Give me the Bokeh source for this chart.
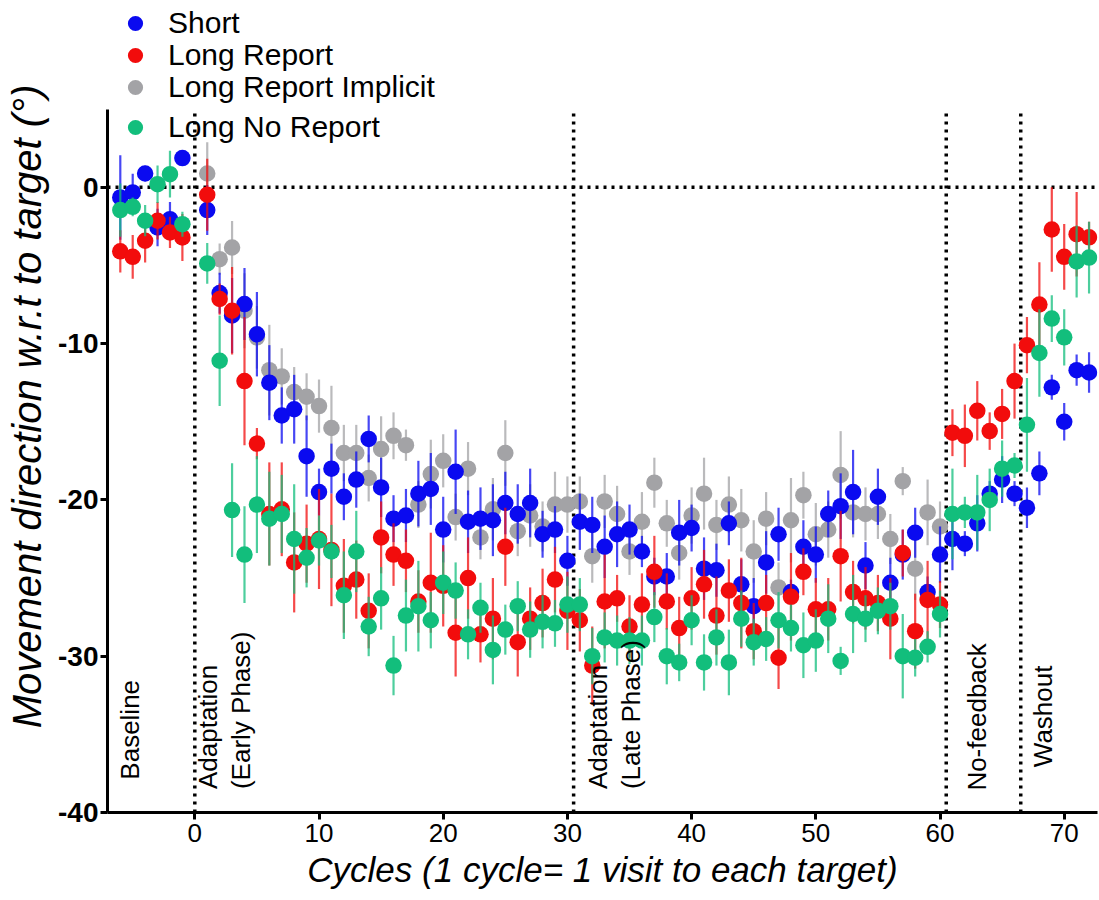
import numpy as np
from bokeh.plotting import figure
from bokeh.models import ColumnDataSource, Range1d, LinearAxis, FixedTicker, Legend, LegendItem
from bokeh.core.properties import value
from bokeh.embed import file_html
from bokeh.resources import INLINE

nan = float("nan")

# ---------------- data ----------------
cycles = [-6, -5, -4, -3, -2, -1,
          1, 2, 3, 4, 5, 6, 7, 8, 9, 10,
          11, 12, 13, 14, 15, 16, 17, 18, 19, 20,
          21, 22, 23, 24, 25, 26, 27, 28, 29, 30,
          31, 32, 33, 34, 35, 36, 37, 38, 39, 40,
          41, 42, 43, 44, 45, 46, 47, 48, 49, 50,
          51, 52, 53, 54, 55, 56, 57, 58, 59, 60,
          61, 62, 63, 64, 65, 66,
          67, 68, 69, 70, 71, 72]

short = [-0.65, -0.33, 0.88, -2.57, -2.04, 1.87,
         -1.46, -6.77, -8.2, -7.47, -9.4, -12.5, -14.6, -14.2, -17.2, -19.5,
         -18.0, -19.8, -18.7, -16.1, -19.2, -21.2, -21.0, -19.6, -19.3, -21.9,
         -18.2, -21.4, -21.2, -21.3, -20.2, -20.9, -20.2, -22.2, -21.9, -23.9,
         -21.4, -21.6, -23.0, -22.2, -21.9, -23.3, -24.9, -24.9, -22.1, -21.8,
         -24.4, -24.5, -21.5, -25.4, -26.8, -24.0, -22.2, -25.9, -23.0, -23.5,
         -20.9, -20.4, -19.5, -24.2, -19.8, -25.3, -23.5, -22.1, -25.9, -23.5,
         -22.5, -22.8, -21.5, -19.6, -18.7, -19.6,
         -20.5, -18.3, -12.8, -15.0, -11.7, -11.85]
short_err = [2.7, 1.2, 0.5, 1.2, 1.1, 0.5,
             1.6, 1.3, 2.4, 2.3, 2.7, 2.4, 1.8, 2.2, 2.6, 1.5,
             1.6, 1.5, 1.8, 1.5, 1.9, 1.5, 1.7, 2.1, 2.3, 2.1,
             2.7, 2.0, 2.0, 2.3, 2.0, 1.9, 2.2, 1.5, 1.5, 1.6,
             1.8, 1.8, 2.0, 2.1, 1.6, 1.0, 1.2, 1.5, 2.1, 1.5,
             2.0, 1.7, 1.4, 1.6, 1.8, 2.0, 1.7, 0.8, 1.7, 1.8,
             1.5, 2.1, 2.7, 1.5, 1.8, 1.6, 1.6, 1.6, 1.0, 1.8,
             2.0, 0.8, 1.8, 0.8, 1.5, 0.8,
             1.3, 1.4, 0.8, 1.2, 1.0, 1.3]

long_report = [-4.1, -4.45, -3.42, -2.14, -2.89, -3.21,
               -0.48, -7.15, -7.9, -12.4, -16.4, -20.9, -20.6, -24.0, -22.8, -22.5,
               -23.2, -25.5, -25.1, -27.1, -22.4, -23.5, -23.9, -26.5, -25.3, -25.5,
               -28.5, -25.0, -28.6, -27.6, -23.0, -29.1, -27.6, -26.6, -25.1, -27.1,
               -27.7, -30.6, -26.5, -26.3, -28.1, -26.7, -24.6, -26.5, -28.2, -26.3,
               -25.4, -27.4, -25.8, -26.6, -28.4, -26.6, -30.1, -26.2, -24.6, -27.0,
               -27.0, -23.6, -25.9, -26.3, -26.6, -27.6, -23.4, -28.4, -26.4, -26.7,
               -15.7, -15.9, -14.3, -15.6, -14.5, -12.4,
               -10.1, -7.5, -2.7, -4.45, -3.0, -3.2]
long_report_err = [1.35, 1.4, 1.4, 1.2, 1.0, 1.5,
                   2.3, 1.0, 2.8, 4.1, 1.0, 3.3, 3.0, 3.2, 2.5, 3.2,
                   3.6, 3.0, 2.5, 2.4, 2.3, 2.0, 2.0, 2.0, 3.2, 2.6,
                   2.8, 2.6, 1.8, 2.6, 2.5, 2.2, 2.0, 2.2, 2.1, 2.5,
                   2.0, 2.5, 3.0, 1.5, 2.0, 2.0, 2.3, 1.8, 2.0, 2.0,
                   2.2, 2.5, 2.0, 2.9, 1.8, 1.8, 2.0, 2.8, 1.5, 2.0,
                   2.0, 2.9, 2.0, 2.0, 1.8, 2.6, 1.5, 2.4, 2.5, 1.5,
                   1.5, 2.0, 1.9, 1.2, 1.6, 2.4,
                   1.8, 2.7, 2.7, 2.1, 2.7, 1.0]

implicit = [nan, nan, nan, nan, nan, nan,
            0.88, -4.6, -3.85, -7.9, -9.6, -11.7, -12.1, -13.1, -13.4, -14.0,
            -15.4, -17.0, -17.0, -18.6, -16.75, -15.9, -16.5, -20.3, -18.35, -17.5,
            -21.1, -18.0, -22.4, -20.6, -17.0, -22.0, -21.0, -21.7, -20.3, -20.3,
            -20.1, -23.6, -20.1, -20.9, -23.3, -21.4, -18.9, -21.5, -23.4, -21.0,
            -19.6, -21.6, -20.3, -21.3, -23.3, -21.2, -25.6, -21.3, -19.7, -22.2,
            -21.9, -18.4, -20.8, -20.9, -20.9, -22.5, -18.8, -24.4, -20.8, -21.7,
            nan, nan, nan, nan, nan, nan,
            nan, nan, nan, nan, nan, nan]
implicit_err = [nan, nan, nan, nan, nan, nan,
                2.0, 1.0, 1.7, 2.4, 2.0, 2.9, 1.8, 1.6, 1.5, 1.7,
                2.7, 1.8, 1.8, 1.5, 2.1, 1.5, 1.0, 1.5, 2.2, 1.7,
                1.5, 1.7, 1.4, 2.0, 2.1, 1.6, 2.0, 1.6, 2.1, 1.8,
                1.6, 1.7, 1.7, 1.8, 1.5, 1.9, 1.6, 1.5, 1.7, 1.8,
                2.3, 1.6, 1.8, 2.0, 2.0, 1.7, 1.6, 2.7, 1.5, 2.0,
                1.8, 2.8, 1.6, 1.7, 1.6, 1.6, 0.9, 2.0, 2.1, 1.6,
                nan, nan, nan, nan, nan, nan,
                nan, nan, nan, nan, nan, nan]

no_report = [-1.46, -1.25, -2.14, 0.2, 0.84, -2.36,
             -4.87, -11.1, -20.65, -23.5, -20.3, -21.2, -20.9, -22.5, -23.7, -22.6,
             -23.3, -26.1, -23.3, -28.1, -26.3, -30.6, -27.4, -26.8, -27.7, -25.3,
             -25.8, -28.6, -26.9, -29.6, -28.3, -26.8, -28.3, -27.8, -27.9, -26.7,
             -26.7, -30.0, -28.8, -29.0, -29.0, -29.0, -27.5, -30.0, -30.4, -27.7,
             -30.4, -28.8, -30.4, -27.6, -29.1, -28.9, -27.7, -28.2, -29.3, -29.0,
             -27.6, -30.3, -27.3, -27.6, -27.1, -26.8, -30.0, -30.1, -29.4, -27.3,
             -20.9, -20.8, -20.8, -20.0, -18.0, -17.8,
             -15.2, -10.6, -8.4, -9.6, -4.75, -4.5]
no_report_err = [1.7, 0.6, 1.0, 1.2, 1.5, 0.8,
                 1.3, 2.9, 3.0, 3.1, 3.1, 3.0, 2.5, 3.5, 1.9, 1.6,
                 1.7, 2.8, 2.6, 1.9, 2.0, 1.9, 2.3, 2.9, 1.8, 2.0,
                 1.8, 1.6, 1.6, 2.2, 1.6, 1.6, 1.8, 1.7, 1.5, 1.8,
                 1.7, 1.8, 1.6, 1.6, 1.5, 1.6, 1.6, 1.8, 1.2, 1.6,
                 1.8, 1.8, 2.1, 1.8, 1.5, 1.4, 1.8, 1.5, 2.1, 2.0,
                 2.2, 0.9, 2.5, 1.5, 1.5, 1.5, 2.7, 1.2, 1.0, 1.5,
                 2.9, 1.0, 2.4, 2.0, 1.8, 0.8,
                 3.0, 2.8, 1.5, 1.8, 2.3, 2.3]

series_names = ["Short", "Long Report", "Long Report Implicit", "Long No Report"]
series_colors = ["#0a0af0", "#f20c0c", "#a3a3a6", "#12be7c"]

x_ticks = [0, 10, 20, 30, 40, 50, 60, 70]
y_ticks = [-40, -30, -20, -10, 0]

phase_bounds = [0, 30.5, 60.5, 66.5]
phase_labels = ["Baseline", "Adaptation\n(Early Phase)", "Adaptation\n(Late Phase)",
                "No-feedback", "Washout"]
phase_label_x = [-5.2, 2.4, 33.8, 63.0, 68.3]
phase_label_y = [-37.9, -38.5, -38.5, -38.6, -37.1]

y_title = "Movement direction w.r.t to target (°)"
x_title = "Cycles (1 cycle= 1 visit to each target)"

# ---------------- figure ----------------
FONT = "Liberation Sans"
X0, X1 = -7.03, 72.68
Y0, Y1 = -40, 11.95

p = figure(width=1099, height=900, output_backend="svg", toolbar_location=None,
           x_range=Range1d(X0, X1), y_range=Range1d(Y0, Y1),
           x_axis_type=None, y_axis_type=None,
           min_border_left=107, min_border_right=2, min_border_top=0, min_border_bottom=88)
p.outline_line_color = None
p.background_fill_color = "white"
p.border_fill_color = "white"

# axes
yax = LinearAxis(bounds=(-40, 5), ticker=FixedTicker(ticks=y_ticks),
                 major_label_overrides={t: str(t) for t in y_ticks})
xax = LinearAxis(ticker=FixedTicker(ticks=x_ticks),
                 major_label_overrides={t: str(t) for t in x_ticks})
for ax in (xax, yax):
    ax.axis_line_width = 3
    ax.axis_line_color = "black"
    ax.major_tick_line_width = 3
    ax.major_tick_line_color = "black"
    ax.major_tick_out = 7
    ax.major_tick_in = 0
    ax.minor_tick_out = 0
    ax.minor_tick_in = 0
    ax.major_label_text_font = FONT
    ax.major_label_text_color = "black"
    ax.axis_label_text_font = FONT
    ax.axis_label_text_font_style = "italic"
    ax.axis_label_text_color = "black"
yax.major_label_text_font_style = "bold"
yax.major_label_text_font_size = "28px"
yax.major_label_standoff = 2
yax.axis_label = y_title
yax.axis_label_text_font_size = "40px"
yax.axis_label_standoff = 6
xax.major_label_text_font_size = "26px"
xax.major_label_standoff = 4
xax.axis_label = x_title
xax.axis_label_text_font_size = "35px"
xax.axis_label_standoff = 5
p.add_layout(yax, "left")
p.add_layout(xax, "below")

# dotted reference lines
vsrc = ColumnDataSource(dict(x=phase_bounds, y0=[-40] * len(phase_bounds), y1=[5] * len(phase_bounds)))
p.segment(x0="x", y0="y0", x1="x", y1="y1", source=vsrc, line_color="black",
          line_width=3.5, line_dash="3 5")
p.segment(x0=[X0], y0=[0], x1=[X1], y1=[0], line_color="black",
          line_width=3.5, line_dash="3 5")

# series, drawn gray -> blue -> red -> green
values = [short, long_report, implicit, no_report]
errors = [short_err, long_report_err, implicit_err, no_report_err]
order = [2, 0, 1, 3]
renderers = {}
for i in order:
    v = np.array(values[i], dtype=float)
    e = np.array(errors[i], dtype=float)
    src = ColumnDataSource(dict(x=cycles, y=v, lo=v - e, hi=v + e))
    p.segment(x0="x", y0="lo", x1="x", y1="hi", source=src,
              line_color=series_colors[i], line_width=2.2, line_alpha=0.75)
    r = p.scatter(x="x", y="y", source=src, size=16.5, marker="circle",
                  fill_color=series_colors[i], line_color=None)
    renderers[i] = r

# phase labels
tsrc = ColumnDataSource(dict(x=phase_label_x, y=phase_label_y, t=phase_labels))
p.text(x="x", y="y", text="t", source=tsrc, angle=np.pi / 2, text_align="left",
       text_baseline="middle", text_font=value(FONT), text_font_size="26px",
       text_color="black", text_line_height=1.08)

# legends: one item each so each row sits where the reference has it
legend_rows = [770, 738, 706, 666]
for i, row in zip([0, 1, 2, 3], legend_rows):
    lg = Legend(items=[LegendItem(label=series_names[i], renderers=[renderers[i]])],
                location=(9, row), orientation="vertical", glyph_width=38, glyph_height=38,
                label_height=32, spacing=0, padding=0, margin=0, label_standoff=14,
                label_text_font=FONT, label_text_font_size="30px", label_text_color="black",
                border_line_color=None, background_fill_alpha=0)
    p.add_layout(lg, "center")

open("out.html", "w").write(file_html(p, INLINE))
